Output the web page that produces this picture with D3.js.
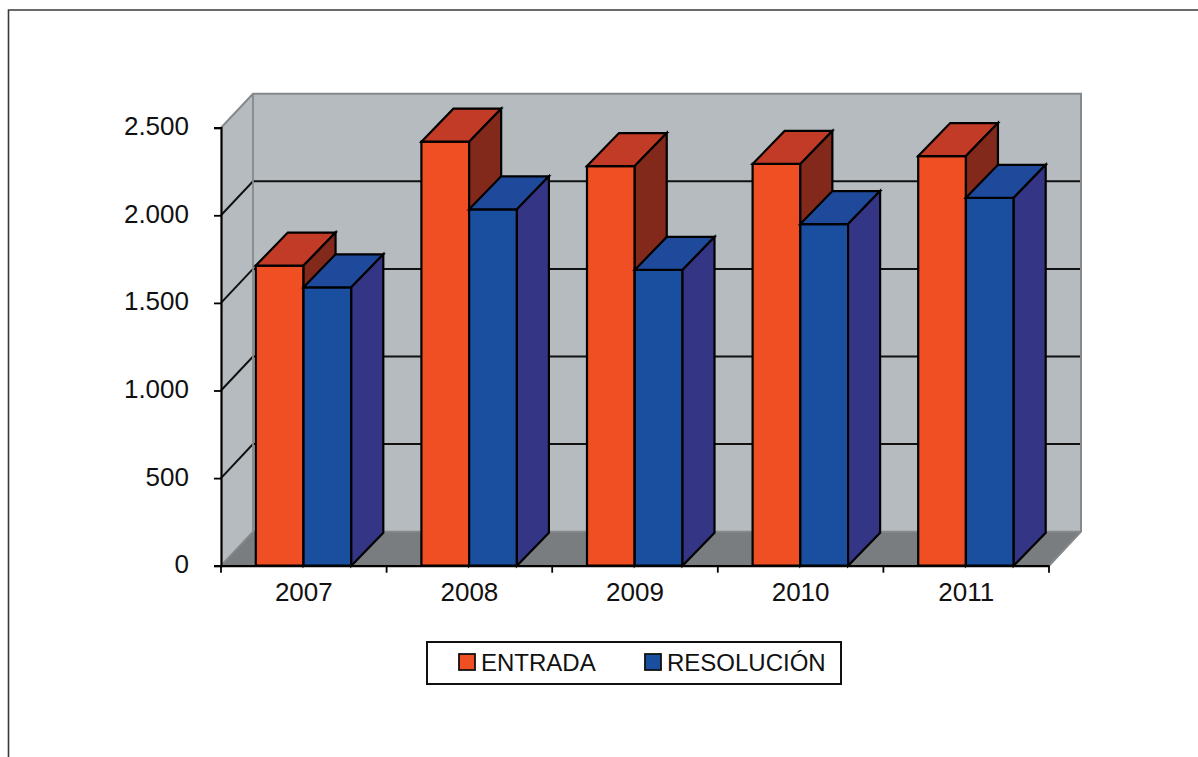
<!DOCTYPE html>
<html><head><meta charset="utf-8">
<script src="https://cdn.jsdelivr.net/npm/d3@7"></script>
<style>html,body{margin:0;padding:0;background:#fff}svg{display:block}text{font-family:"Liberation Sans",Arial,sans-serif;fill:#111}</style>
</head><body><svg id="c" width="1198" height="757"></svg>
<script>
const years = ["2007","2008","2009","2010","2011"];
const seriesNames = ["ENTRADA","RESOLUCIÓN"];
const entrada = [1713,2420,2281,2293,2338];
const resolucion = [1589,2034,1688,1950,2100];
const yTicks = [0,500,1000,1500,2000,2500];
const faceColors = {ENTRADA:["#F04E23","#C23B27","#83291B"],"RESOLUCIÓN":["#1A4FA0","#1F4A9C","#343584"]};

const svg = d3.select("#c");
const x0=221,x1=1049,yB=565.7,yT=127.7,dx=32,dy=-34,barDy=-33;
const x = d3.scaleBand().domain(years).range([x0,x1]);
const y = d3.scaleLinear().domain([0,2500]).range([yB,yT]);
const inner = d3.scaleBand().domain(seriesNames).range([-48,47.5]);
const fmt = d3.formatLocale({decimal:",",thousands:".",grouping:[3],currency:["",""]}).format(",d");
const poly=(pts,fill,stroke,w)=>svg.append("path").attr("d","M"+pts.map(p=>p.join(",")).join("L")+"Z")
  .attr("fill",fill).attr("stroke",stroke||"none").attr("stroke-width",w||0).attr("stroke-linejoin","miter");

// frame: top and left edges only
svg.append("path").attr("d","M8.5,757V10H1198").attr("fill","none").attr("stroke","#3a3a3a").attr("stroke-width",1.6);

// walls
poly([[x0,yT],[x0+dx,yT+dy],[x0+dx,yB+dy],[x0,yB]],"#B5BBBE");
poly([[x0+dx,yT+dy],[x1+dx,yT+dy],[x1+dx,yB+dy],[x0+dx,yB+dy]],"#B5BBBE");
poly([[x0,yB],[x0+dx,yB+dy],[x1+dx,yB+dy],[x1,yB]],"#797D80");
// gridlines
yTicks.slice(1,-1).forEach(t=>{
  svg.append("path").attr("d",`M${x0},${y(t)}L${x0+dx},${y(t)+dy}H${x1+dx}`).attr("fill","none").attr("stroke","#111").attr("stroke-width",2);
});
svg.append("path").attr("d",`M${x0},${yT}L${x0+dx},${yT+dy}H${x1+dx}V${yB+dy}L${x1},${yB}`).attr("fill","none").attr("stroke","#85898c").attr("stroke-width",2);
svg.append("path").attr("d",`M${x0+dx},${yT+dy}V${yB+dy}H${x1+dx}M${x0+dx},${yB+dy}L${x0},${yB}`).attr("fill","none").attr("stroke","#85898c").attr("stroke-width",1.8);

// bars
years.forEach((yr,i)=>{
  seriesNames.forEach((s,j)=>{
    const v=(j===0?entrada:resolucion)[i], c=faceColors[s];
    const l=x(yr)+x.bandwidth()/2+inner(s), r=l+inner.bandwidth(), t=y(v);
    poly([[l,t],[r,t],[r,yB],[l,yB]],c[0],"#000",2.2);
    poly([[l,t],[l+dx,t+barDy],[r+dx,t+barDy],[r,t]],c[1],"#000",2.2);
    poly([[r,t],[r+dx,t+barDy],[r+dx,yB+barDy],[r,yB]],c[2],"#000",2.2);
  });
});

// axes
const gy=svg.append("g").attr("transform",`translate(${x0},0)`).call(d3.axisLeft(y).tickValues(yTicks).tickFormat(fmt).tickSize(7).tickPadding(25));
const gx=svg.append("g").attr("transform",`translate(0,${yB})`).call(d3.axisBottom(x).tickSize(0).tickPadding(17));
x.domain().concat(["end"]).forEach((d,i)=>{
  const p=x0+i*x.bandwidth();
  gx.append("line").attr("x1",p).attr("x2",p).attr("y1",0).attr("y2",7);
});
[gx,gy].forEach(g=>{g.selectAll("path.domain").attr("stroke","#000").attr("stroke-width",2.2);g.selectAll("line").attr("stroke","#000").attr("stroke-width",1.8);g.selectAll("text").attr("font-size",26).attr("font-family",'"Liberation Sans"').attr("fill","#111");});
gy.selectAll("text").attr("dy","0.27em");

// legend
svg.append("rect").attr("x",427).attr("y",642).attr("width",414).attr("height",42).attr("fill","#fff").attr("stroke","#111").attr("stroke-width",2);
const lx=[459,645], tx=[481,667];
seriesNames.forEach((s,i)=>{
  svg.append("rect").attr("x",lx[i]).attr("y",654).attr("width",16).attr("height",16).attr("fill",faceColors[s][0]).attr("stroke","#111").attr("stroke-width",1.8);
  svg.append("text").attr("x",tx[i]).attr("y",671).attr("font-size",24).text(s);
});
</script></body></html>
